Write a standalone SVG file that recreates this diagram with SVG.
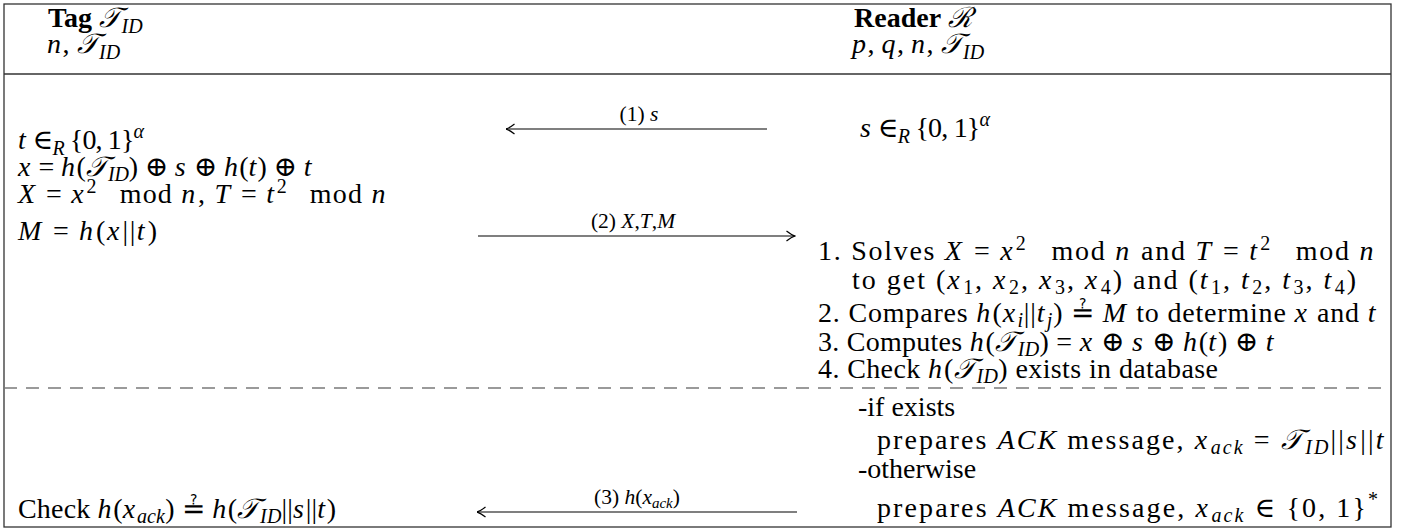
<svg xmlns="http://www.w3.org/2000/svg" width="1406" height="529" viewBox="0 0 1406 529">
<defs>
<style>
.t{font-family:"Liberation Serif","DejaVu Serif",serif;font-size:28px;fill:#000}
.i{font-style:italic;letter-spacing:1.5px}
.w{font-style:italic;letter-spacing:0}
.b{font-weight:bold}
.sm{font-size:20px;letter-spacing:0}
.lab{font-family:"Liberation Serif","DejaVu Serif",serif;font-size:21.5px;fill:#000;text-anchor:middle}
.rule{stroke:#333;stroke-width:1.3;fill:none}
.dash{stroke:#7a7a7a;stroke-width:1.4;stroke-dasharray:13 9;fill:none}
.arr{stroke:#000;stroke-width:1.2;fill:none;marker-end:url(#head)}
</style>
<marker id="head" viewBox="0 0 10 12" refX="9.5" refY="6" markerWidth="10" markerHeight="12" markerUnits="userSpaceOnUse" orient="auto">
<path d="M1,1 Q6,5 9.5,6 Q6,7 1,11" fill="none" stroke="#000" stroke-width="1.2"/>
</marker>
</defs>
<rect width="1406" height="529" fill="#fff"/>
<g id="frame">
<rect x="4" y="4" width="1387" height="523" class="rule"/>
<line x1="4" y1="74" x2="1391" y2="74" class="rule"/>
<line x1="4" y1="388" x2="1391" y2="388" class="dash"/>
</g>
<g id="tag-header">
<text class="t" x="48" y="27"><tspan class="b">Tag</tspan> <tspan class="i">𝒯</tspan><tspan class="w sm" dy="6">ID</tspan></text>
<text class="t" x="47" y="53"><tspan class="i">n</tspan>, <tspan class="i">𝒯</tspan><tspan class="w sm" dy="6">ID</tspan></text>
</g>
<g id="reader-header">
<text class="t" x="854" y="27"><tspan class="b">Reader</tspan> <tspan class="i">ℛ</tspan></text>
<text class="t" x="852" y="53"><tspan class="i">p</tspan>, <tspan class="i">q</tspan>, <tspan class="i">n</tspan>, <tspan class="i">𝒯</tspan><tspan class="w sm" dy="6">ID</tspan></text>
</g>
<g id="tag-steps">
<text class="t" x="18" y="149" textLength="126" lengthAdjust="spacing"><tspan class="i">t</tspan> ∈<tspan class="w sm" dy="6">R</tspan><tspan dy="-6"> {0, 1}</tspan><tspan class="w sm" dy="-11">α</tspan></text>
<text class="t" x="18" y="176" textLength="295" lengthAdjust="spacing"><tspan class="i">x</tspan> = <tspan class="i">h</tspan>(<tspan class="i">𝒯</tspan><tspan class="w sm" dy="5">ID</tspan><tspan dy="-5">) ⊕ </tspan><tspan class="i">s</tspan> ⊕ <tspan class="i">h</tspan>(<tspan class="i">t</tspan>) ⊕ <tspan class="i">t</tspan></text>
<text class="t" x="18" y="203" textLength="369" lengthAdjust="spacing"><tspan class="i">X</tspan> = <tspan class="i">x</tspan><tspan class="sm" dy="-10">2</tspan><tspan dx="22" dy="10">mod </tspan><tspan class="i">n</tspan>, <tspan class="i">T</tspan> = <tspan class="i">t</tspan><tspan class="sm" dy="-10">2</tspan><tspan dx="22" dy="10">mod </tspan><tspan class="i">n</tspan></text>
<text class="t" x="18" y="240" textLength="139" lengthAdjust="spacing"><tspan class="i">M</tspan> = <tspan class="i">h</tspan>(<tspan class="i">x</tspan>||<tspan class="i">t</tspan>)</text>
<text class="t" x="18" y="518" textLength="318" lengthAdjust="spacing">Check <tspan class="i">h</tspan>(<tspan class="i">x</tspan><tspan class="w sm" dy="5">ack</tspan><tspan dy="-5">) ≟ </tspan><tspan class="i">h</tspan>(<tspan class="i">𝒯</tspan><tspan class="w sm" dy="5">ID</tspan><tspan dy="-5">||</tspan><tspan class="i">s</tspan>||<tspan class="i">t</tspan>)</text>
</g>
<g id="reader-steps">
<text class="t" x="860" y="137" textLength="130" lengthAdjust="spacing"><tspan class="i">s</tspan> ∈<tspan class="w sm" dy="6">R</tspan><tspan dy="-6"> {0, 1}</tspan><tspan class="w sm" dy="-11">α</tspan></text>
<text class="t" x="818" y="260" textLength="557" lengthAdjust="spacing">1. Solves <tspan class="i">X</tspan> = <tspan class="i">x</tspan><tspan class="sm" dy="-10">2</tspan><tspan dx="24" dy="10">mod </tspan><tspan class="i">n</tspan> and <tspan class="i">T</tspan> = <tspan class="i">t</tspan><tspan class="sm" dy="-10">2</tspan><tspan dx="24" dy="10">mod </tspan><tspan class="i">n</tspan></text>
<text class="t" x="852" y="289" textLength="504" lengthAdjust="spacing">to get (<tspan class="i">x</tspan><tspan class="sm" dy="5">1</tspan><tspan dy="-5">, </tspan><tspan class="i">x</tspan><tspan class="sm" dy="5">2</tspan><tspan dy="-5">, </tspan><tspan class="i">x</tspan><tspan class="sm" dy="5">3</tspan><tspan dy="-5">, </tspan><tspan class="i">x</tspan><tspan class="sm" dy="5">4</tspan><tspan dy="-5">) and (</tspan><tspan class="i">t</tspan><tspan class="sm" dy="5">1</tspan><tspan dy="-5">, </tspan><tspan class="i">t</tspan><tspan class="sm" dy="5">2</tspan><tspan dy="-5">, </tspan><tspan class="i">t</tspan><tspan class="sm" dy="5">3</tspan><tspan dy="-5">, </tspan><tspan class="i">t</tspan><tspan class="sm" dy="5">4</tspan><tspan dy="-5">)</tspan></text>
<text class="t" x="818" y="322" textLength="559" lengthAdjust="spacing">2. Compares <tspan class="i">h</tspan>(<tspan class="i">x</tspan><tspan class="w sm" dy="5">i</tspan><tspan dy="-5">||</tspan><tspan class="i">t</tspan><tspan class="w sm" dy="5">j</tspan><tspan dy="-5">) ≟ </tspan><tspan class="i">M</tspan> to determine <tspan class="i">x</tspan> and <tspan class="i">t</tspan></text>
<text class="t" x="818" y="351" textLength="457" lengthAdjust="spacing">3. Computes <tspan class="i">h</tspan>(<tspan class="i">𝒯</tspan><tspan class="w sm" dy="5">ID</tspan><tspan dy="-5">) = </tspan><tspan class="i">x</tspan> ⊕ <tspan class="i">s</tspan> ⊕ <tspan class="i">h</tspan>(<tspan class="i">t</tspan>) ⊕ <tspan class="i">t</tspan></text>
<text class="t" x="818" y="378" textLength="400" lengthAdjust="spacing">4. Check <tspan class="i">h</tspan>(<tspan class="i">𝒯</tspan><tspan class="w sm" dy="5">ID</tspan><tspan dy="-5">) exists in database</tspan></text>
<text class="t" x="858" y="416">-if exists</text>
<text class="t" x="877" y="449" textLength="508" lengthAdjust="spacing">prepares <tspan class="w">ACK</tspan> message, <tspan class="i">x</tspan><tspan class="w sm" dy="5">ack</tspan><tspan dy="-5"> = </tspan><tspan class="i">𝒯</tspan><tspan class="w sm" dy="5">ID</tspan><tspan dy="-5">||</tspan><tspan class="i">s</tspan>||<tspan class="i">t</tspan></text>
<text class="t" x="858" y="478">-otherwise</text>
<text class="t" x="877" y="517" textLength="501" lengthAdjust="spacing">prepares <tspan class="w">ACK</tspan> message, <tspan class="i">x</tspan><tspan class="w sm" dy="5">ack</tspan><tspan dy="-5"> ∈ {0, 1}</tspan><tspan class="sm" dy="-11">*</tspan></text>
</g>
<g id="connectors">
<line x1="767" y1="129" x2="506" y2="129" class="arr"/>
<text class="lab" x="639" y="121">(1) <tspan class="w">s</tspan></text>
<line x1="478" y1="236" x2="795" y2="236" class="arr"/>
<text class="lab" x="633" y="228">(2) <tspan class="w">X</tspan>,<tspan class="w">T</tspan>,<tspan class="w">M</tspan></text>
<line x1="797" y1="512" x2="477" y2="512" class="arr"/>
<text class="lab" x="637" y="504">(3) <tspan class="w">h</tspan>(<tspan class="w">x</tspan><tspan class="w" font-size="15" dy="4">ack</tspan><tspan dy="-4">)</tspan></text>
</g>
</svg>
